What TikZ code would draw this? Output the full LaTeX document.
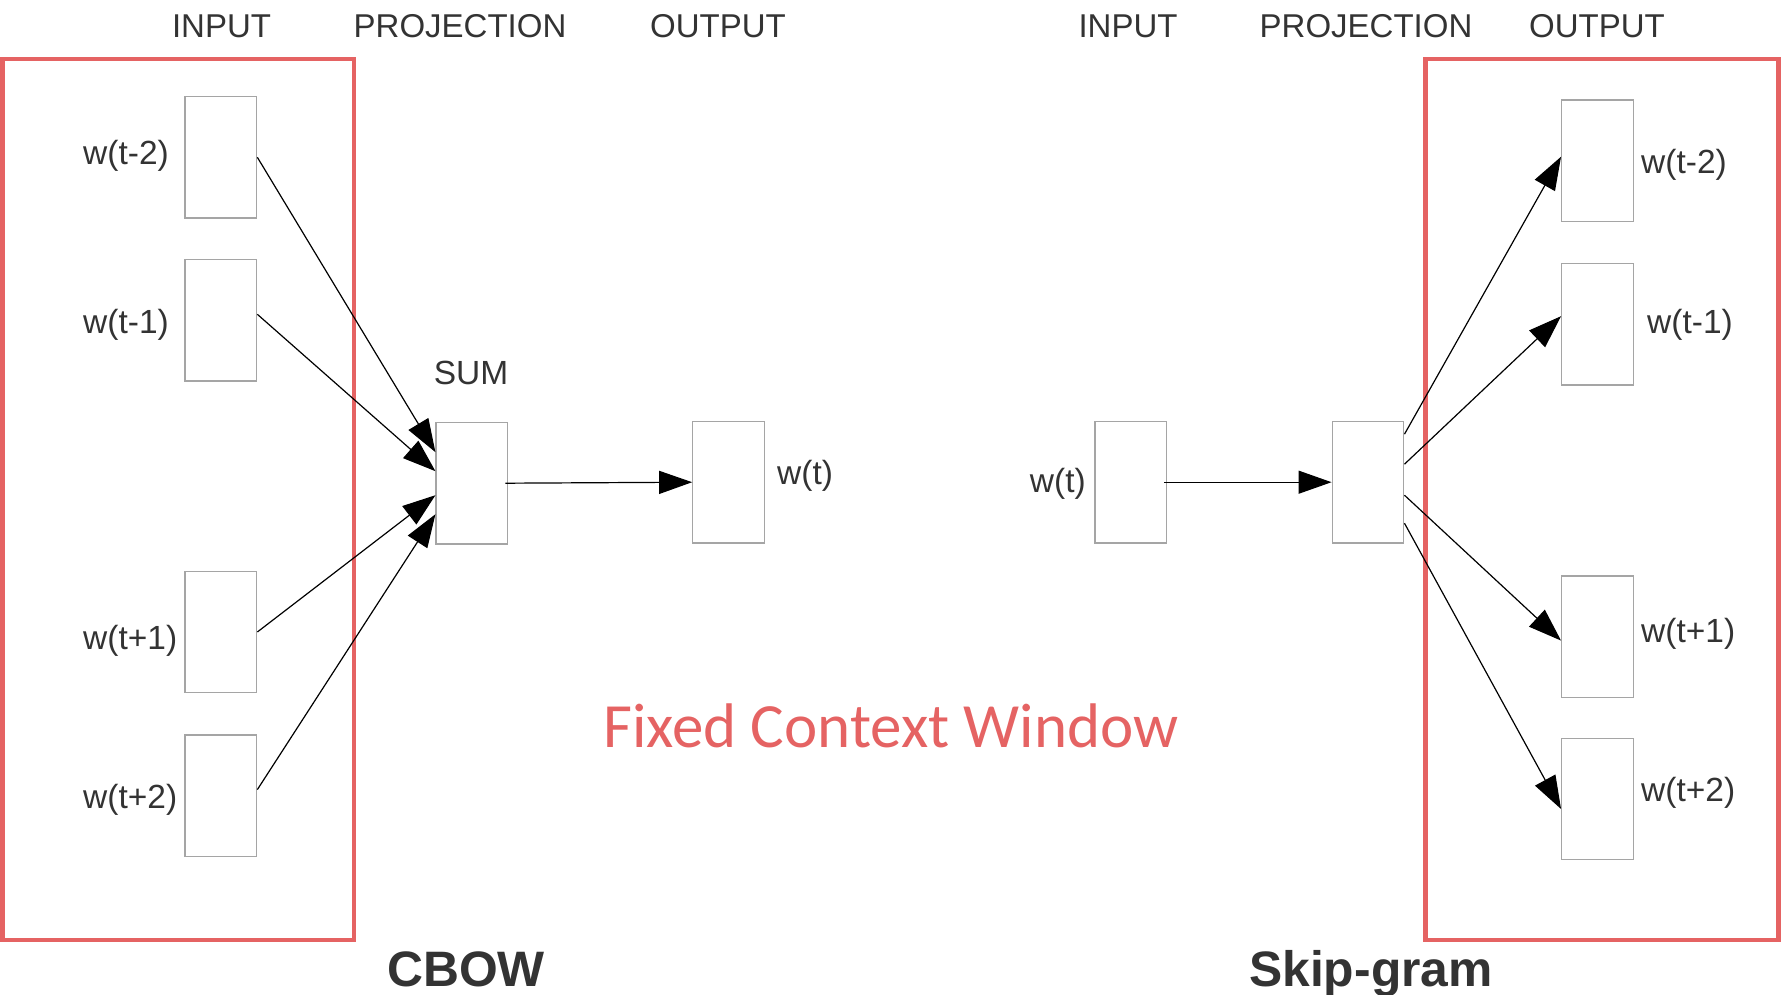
\documentclass[tikz,border=0pt]{standalone}
\usepackage{fontspec}
\setmainfont{Liberation Sans}
\newfontfamily\carlito{Carlito}
\usetikzlibrary{arrows.meta}
\definecolor{winred}{RGB}{229,99,99}
\definecolor{txt}{RGB}{51,51,51}
\definecolor{boxgray}{RGB}{165,165,165}
\begin{document}
\begin{tikzpicture}[x=1pt,y=-1pt,
  wbox/.style={draw=boxgray,line width=1.3pt,fill=white,minimum width=71.6pt,minimum height=121.5pt,inner sep=0pt},
  lbl/.style={text=txt,font=\fontsize{33.5}{38}\selectfont,inner sep=0pt},
  hdr/.style={text=txt,font=\fontsize{33}{38}\selectfont,inner sep=0pt,anchor=base},
  ttl/.style={text=txt,font=\fontsize{49.8}{58}\selectfont\bfseries,inner sep=0pt,anchor=base},
  win/.style={draw=winred,line width=4.5pt},
  arr/.style={line width=1.2pt,draw=black,-{Triangle[length=33pt,width=23pt]}}
]
\useasboundingbox (0,0) rectangle (1781,995);
% red windows
\draw[win] (2.3,59) rectangle (354,940);
\draw[win] (1425.4,59) rectangle (1778.7,940);
% headers
\node[hdr] (h1) at (221.5,37.5) {INPUT};
\node[hdr] (h2) at (460,37.5) {PROJECTION};
\node[hdr] (h3) at (718,37.5) {OUTPUT};
\node[hdr] (h4) at (1128,37.5) {INPUT};
\node[hdr] (h5) at (1366,37.5) {PROJECTION};
\node[hdr] (h6) at (1597,37.5) {OUTPUT};
% CBOW boxes
\node[wbox] (i1) at (220.9,157.3) {};
\node[wbox] (i2) at (220.9,320.3) {};
\node[wbox] (i3) at (220.9,632) {};
\node[wbox] (i4) at (220.9,795.6) {};
\node[wbox] (sum) at (471.9,483.2) {};
\node[wbox] (out) at (728.6,482.2) {};
\node[lbl,anchor=west] (li1) at (83,155.6) {w(t-2)};
\node[lbl,anchor=west] (li2) at (83,325) {w(t-1)};
\node[lbl,anchor=west] (li3) at (83,640.6) {w(t+1)};
\node[lbl,anchor=west] (li4) at (83,799.6) {w(t+2)};
\node[lbl] (lsum) at (471,372.5) {SUM};
\node[lbl,anchor=west] (lout) at (777,476) {w(t)};
\draw[arr] (i1.east) -- ([yshift=31pt]sum.west);
\draw[arr] ([yshift=6pt]i2.east) -- ([yshift=12pt]sum.west);
\draw[arr] (i3.east) -- ([yshift=-12pt]sum.west);
\draw[arr] ([yshift=6pt]i4.east) -- ([yshift=-31pt]sum.west);
\draw[arr] ([xshift=-3pt]sum.east) -- (out.west);
% Skip-gram boxes
\node[wbox] (si) at (1130.7,482.2) {};
\node[wbox] (sp) at (1368,482.2) {};
\node[wbox] (so1) at (1597.5,160.7) {};
\node[wbox] (so2) at (1597.5,324.2) {};
\node[wbox] (so3) at (1597.5,636.6) {};
\node[wbox] (so4) at (1597.5,799) {};
\node[lbl,anchor=east] (lsi) at (1086,484) {w(t)};
\node[lbl,anchor=west] (lso1) at (1641,164.7) {w(t-2)};
\node[lbl,anchor=west] (lso2) at (1647,325) {w(t-1)};
\node[lbl,anchor=west] (lso3) at (1641,634) {w(t+1)};
\node[lbl,anchor=west] (lso4) at (1641,793) {w(t+2)};
\draw[arr] ([xshift=-3pt]si.east) -- (sp.west);
\draw[arr] ([yshift=48pt]sp.east) -- ([yshift=4pt]so1.west);
\draw[arr] ([yshift=18pt]sp.east) -- ([yshift=8pt]so2.west);
\draw[arr] ([yshift=-13pt]sp.east) -- ([yshift=-4pt]so3.west);
\draw[arr] ([yshift=-41pt]sp.east) -- ([yshift=-10pt]so4.west);
% titles
\node[ttl] (cbow) at (466,986) {CBOW};
\node[ttl] (skip) at (1371,986) {Skip-gram};
\node[text=winred,font=\carlito\fontsize{63}{70}\selectfont,inner sep=0pt,anchor=base] (fcw) at (891,747) {Fixed Context Window};
\end{tikzpicture}
\end{document}
